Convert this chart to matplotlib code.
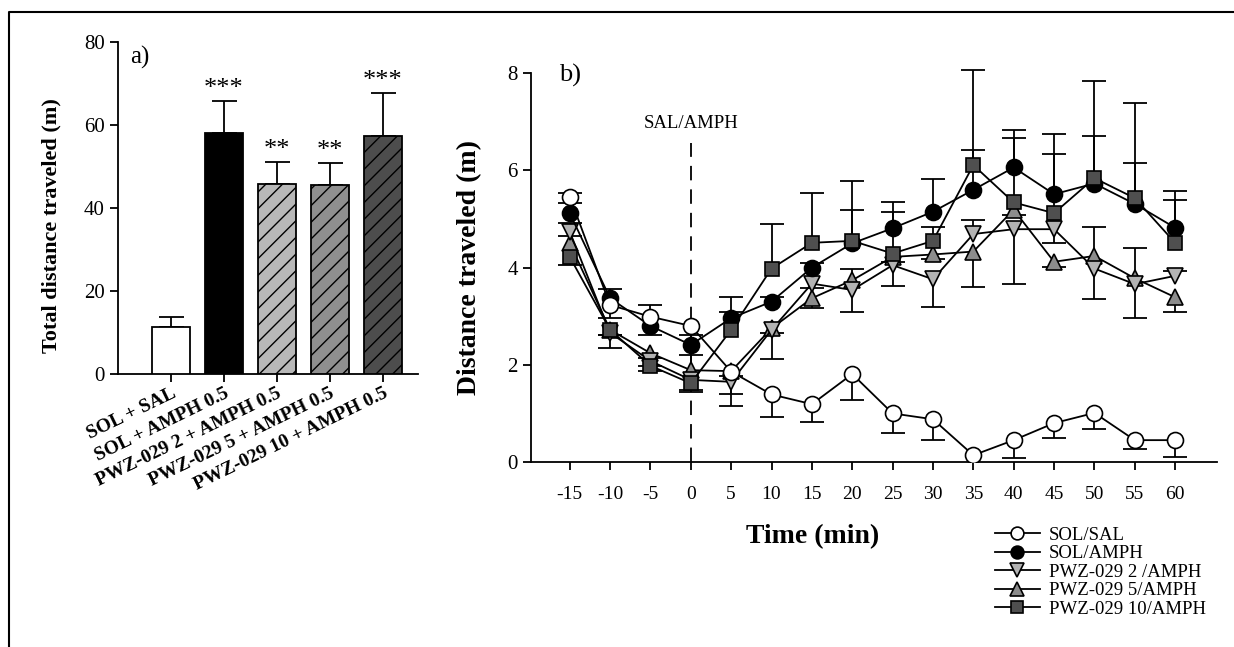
import numpy as np
import matplotlib
matplotlib.use("Agg")
import matplotlib.pyplot as plt
from matplotlib.lines import Line2D

plt.rcParams['font.family'] = ['Liberation Serif', 'DejaVu Serif']
plt.rcParams['hatch.linewidth'] = 1.0

# ---------------- Panel a data ----------------
groups = ["SOL + SAL", "SOL + AMPH 0.5", "PWZ-029 2 + AMPH 0.5",
          "PWZ-029 5 + AMPH 0.5", "PWZ-029 10 + AMPH 0.5"]
totals = [11.3, 58.1, 45.7, 45.5, 57.3]
totals_sem = [2.4, 7.7, 5.4, 5.3, 10.4]
stars = ["", "***", "**", "**", "***"]
bar_colors = ["#ffffff", "#000000", "#b8b8b8", "#8f8f8f", "#4d4d4d"]
bar_hatches = ["", "", "//", "//", "//"]

# ---------------- Panel b data ----------------
time = [-15, -10, -5, 0, 5, 10, 15, 20, 25, 30, 35, 40, 45, 50, 55, 60]

sol_sal = [5.46, 3.23, 2.99, 2.80, 1.86, 1.39, 1.19, 1.81, 1.00, 0.88, 0.14, 0.45, 0.80, 1.01, 0.45, 0.45]
sol_sal_err = [0.08, 0.27, 0.24, 0.0, 0.70, 0.46, 0.36, 0.53, 0.41, 0.43, 0.0, 0.36, 0.30, 0.33, 0.18, 0.34]
sol_sal_dir = [1, -1, 1, 1, -1, -1, -1, -1, -1, -1, -1, -1, -1, -1, -1, -1]

sol_amph = [5.12, 3.37, 2.80, 2.41, 2.96, 3.30, 4.00, 4.50, 4.81, 5.15, 5.60, 6.06, 5.51, 5.73, 5.31, 4.82]
sol_amph_err = [0.20, 0.18, 0.19, 0.20, 0.12, 0.10, 0.10, 0.68, 0.53, 0.67, 0.81, 0.77, 0.82, 0.98, 0.84, 0.76]
sol_amph_dir = [1, 1, -1, 1, 1, 1, 1, 1, 1, 1, 1, 1, 1, 1, 1, 1]

pwz2 = [4.74, 2.66, 2.08, 1.69, 1.65, 2.72, 3.67, 3.54, 4.05, 3.76, 4.69, 4.79, 4.79, 3.98, 3.66, 3.83]
pwz2_err = [0.17, 0.31, 0.10, 0.20, 0.26, 0.60, 0.10, 0.45, 0.43, 0.58, 0.29, 1.13, 0.28, 0.63, 0.70, 0.10]
pwz2_dir = [1, -1, -1, -1, -1, -1, -1, -1, -1, -1, 1, -1, -1, -1, -1, 1]

pwz5 = [4.50, 2.72, 2.24, 1.89, 1.87, 2.75, 3.37, 3.74, 4.22, 4.27, 4.33, 5.19, 4.12, 4.24, 3.78, 3.39]
pwz5_err = [0.15, 0.10, 0.10, 0.31, 0.10, 0.10, 0.21, 0.24, 0.10, 0.10, 0.72, 0.10, 0.10, 0.60, 0.62, 0.30]
pwz5_dir = [1, -1, -1, 1, -1, -1, -1, 1, -1, -1, -1, -1, -1, 1, 1, -1]

pwz10 = [4.22, 2.72, 1.98, 1.62, 2.72, 3.98, 4.51, 4.55, 4.29, 4.55, 6.11, 5.34, 5.12, 5.84, 5.43, 4.51]
pwz10_err = [0.17, 0.10, 0.10, 0.17, 0.68, 0.92, 1.03, 1.24, 0.85, 0.29, 1.96, 1.32, 1.62, 1.99, 1.95, 0.88]
pwz10_dir = [-1, -1, -1, -1, 1, 1, 1, 1, 1, 1, 1, 1, 1, 1, 1, 1]

series_labels = ["SOL/SAL", "SOL/AMPH", "PWZ-029 2 /AMPH", "PWZ-029 5/AMPH", "PWZ-029 10/AMPH"]

# ---------------- Figure ----------------
fig = plt.figure(figsize=(12.34, 6.47), dpi=100)

# frame lines (left and top)
fig.add_artist(Line2D([0.0073, 0.0073, 1.0], [0.0, 0.9815, 0.9815],
                      transform=fig.transFigure, color='black', lw=1.5))

# ---------- Panel a ----------
axa = fig.add_axes([0.0956, 0.422, 0.243, 0.513])
xa = np.arange(len(groups))
axa.bar(xa, totals, width=0.71, color=bar_colors, edgecolor='black',
        linewidth=1.3, hatch=bar_hatches, zorder=3)
axa.errorbar(xa, totals, yerr=[np.zeros(len(totals)), totals_sem], fmt='none',
             ecolor='black', elinewidth=1.3, capsize=9, capthick=1.3, zorder=2)
for xi, v, e, s in zip(xa, totals, totals_sem, stars):
    if s:
        axa.text(xi, v + e + 0.3, s, ha='center', va='bottom', fontsize=19)
axa.set_xlim(-1.0, 4.66)
axa.set_ylim(0, 80)
axa.set_yticks([0, 20, 40, 60, 80])
axa.set_xticks(xa)
axa.set_xticklabels(groups, rotation=26, ha='right', rotation_mode='anchor',
                    fontweight='bold', fontsize=14)
axa.tick_params(axis='y', labelsize=15, length=6, width=1.3, direction='out')
axa.tick_params(axis='x', length=6, width=1.3, direction='out', pad=2)
for sp in ['top', 'right']:
    axa.spines[sp].set_visible(False)
for sp in ['left', 'bottom']:
    axa.spines[sp].set_linewidth(1.3)
axa.set_ylabel("Total distance traveled (m)", fontsize=16, fontweight='bold')
axa.yaxis.set_label_coords(-0.19, 0.446)
axa.text(0.04, 0.955, "a)", transform=axa.transAxes, fontsize=18,
         ha='left', va='center')

# ---------- Panel b ----------
axb = fig.add_axes([0.4303, 0.2859, 0.556, 0.601])
t = np.array(time, dtype=float)

specs = [
    (sol_sal, sol_sal_err, sol_sal_dir, 'o', '#ffffff', 11.5),
    (sol_amph, sol_amph_err, sol_amph_dir, 'o', '#000000', 11.5),
    (pwz2, pwz2_err, pwz2_dir, 'v', '#b3b3b3', 12),
    (pwz5, pwz5_err, pwz5_dir, '^', '#8c8c8c', 12),
    (pwz10, pwz10_err, pwz10_dir, 's', '#4f4f4f', 10.5),
]

# error bars (single-sided)
for vals, errs, dirs, *_ in specs:
    v = np.array(vals); e = np.array(errs); d = np.array(dirs)
    m = e > 0
    ends = v + d * e
    axb.vlines(t[m], v[m], ends[m], colors='black', linewidth=1.3, zorder=2,
               clip_on=False)
    axb.plot(t[m], ends[m], ls='none', marker='_', ms=17, mew=1.3,
             color='black', zorder=2, clip_on=False)

# lines + markers
order = [3, 2, 1, 4, 0]
handles = {}
for k in order:
    vals, errs, dirs, mk, fc, ms = specs[k]
    ln, = axb.plot(t, vals, color='black', lw=1.3, marker=mk, ms=ms,
                   markerfacecolor=fc, markeredgecolor='black', mew=1.2,
                   zorder=3 + order.index(k), label=series_labels[k])
    handles[k] = ln

# injection marker
axb.vlines(0, 0, 6.56, colors='black', linestyles=(0, (8, 5)), linewidth=1.3, zorder=1)
axb.text(0, 6.8, "SAL/AMPH", ha='center', va='bottom', fontsize=13.5)
axb.text(-16.3, 7.95, "b)", fontsize=19, ha='left', va='center')

axb.set_xlim(-19.8, 65.2)
axb.set_ylim(0, 8)
axb.set_yticks([0, 2, 4, 6, 8])
axb.set_xticks(time)
axb.set_xticklabels([str(x) for x in time])
axb.tick_params(axis='y', labelsize=15, length=6, width=1.3, direction='out')
axb.tick_params(axis='x', labelsize=14, length=6, width=1.3, direction='out', pad=11)
for sp in ['top', 'right']:
    axb.spines[sp].set_visible(False)
for sp in ['left', 'bottom']:
    axb.spines[sp].set_linewidth(1.3)
axb.set_ylabel("Distance traveled (m)", fontsize=20, fontweight='bold')
axb.yaxis.set_label_coords(-0.071, 0.5)
axb.set_xlabel("Time (min)", fontsize=20, fontweight='bold')
axb.xaxis.set_label_coords(0.411, -0.16)

leg = fig.legend([handles[k] for k in range(5)], series_labels,
                 loc='upper left', bbox_to_anchor=(0.800, 0.198),
                 frameon=False, fontsize=13.5, handlelength=2.4,
                 labelspacing=0.08, handletextpad=0.5, borderaxespad=0,
                 markerscale=0.8)

fig.savefig("out.png", dpi=100)
